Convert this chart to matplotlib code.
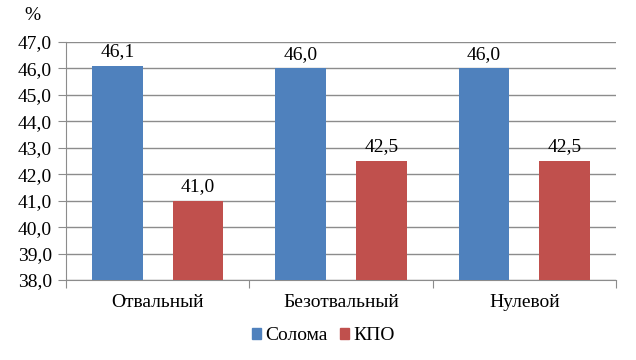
import matplotlib
matplotlib.use("Agg")
import matplotlib.pyplot as plt
import numpy as np
from matplotlib.patches import Patch

categories = ["Отвальный", "Безотвальный", "Нулевой"]
straw = [46.1, 46.0, 46.0]
kpo = [41.0, 42.5, 42.5]
series_names = ["Солома", "КПО"]
yticks = [38.0, 39.0, 40.0, 41.0, 42.0, 43.0, 44.0, 45.0, 46.0, 47.0]

plt.rcParams['font.family'] = ['Liberation Serif', 'DejaVu Serif']

blue = '#4F81BD'
red = '#C0504D'
grid = '#8C8C8C'
fs = 14

fig = plt.figure(figsize=(6.36, 3.6), dpi=100)
ax = fig.add_axes([66 / 636, 1 - 280 / 360, 550 / 636, 238 / 360])

x = np.arange(len(categories))
w = 0.278
off = 0.22
ax.bar(x - off, [v - yticks[0] for v in straw], w, bottom=yticks[0], color=blue, zorder=3)
ax.bar(x + off, [v - yticks[0] for v in kpo], w, bottom=yticks[0], color=red, zorder=3)

fmt = lambda v: f"{v:.1f}".replace('.', ',')
for xi, v in zip(x - off, straw):
    ax.text(xi, v + 0.22, fmt(v), ha='center', va='bottom', fontsize=fs)
for xi, v in zip(x + off, kpo):
    ax.text(xi, v + 0.22, fmt(v), ha='center', va='bottom', fontsize=fs)

ax.set_xlim(-0.5, len(categories) - 0.5)
ax.set_ylim(yticks[0], yticks[-1])
ax.set_yticks(yticks)
ax.set_yticklabels([fmt(t) for t in yticks], fontsize=fs)
ax.yaxis.grid(True, color=grid, linewidth=1, zorder=0)
ax.set_axisbelow(True)

ax.set_xticks(np.arange(len(categories) + 1) - 0.5)
ax.set_xticklabels([])
ax.set_xticks(x, minor=True)
ax.set_xticklabels(categories, minor=True, fontsize=fs)
ax.tick_params(axis='x', which='major', length=6, color=grid, direction='out')
ax.tick_params(axis='x', which='minor', length=0, pad=10)
ax.tick_params(axis='y', length=6, color=grid, pad=4)

for s in ['top', 'right']:
    ax.spines[s].set_visible(False)
ax.spines['left'].set_color(grid)
ax.spines['bottom'].set_color(grid)

fig.text(32 / 636, 1 - 16 / 360, '%', ha='center', va='center', fontsize=fs)

handles = [Patch(color=blue), Patch(color=red)]
fig.legend(handles, series_names, loc='center', bbox_to_anchor=(323.5 / 636, 1 - 336 / 360),
           ncol=2, frameon=False, fontsize=fs, handlelength=0.47, handleheight=0.47,
           handletextpad=0.2, columnspacing=0.65, borderpad=0, borderaxespad=0)

fig.savefig('out.png', dpi=100)
